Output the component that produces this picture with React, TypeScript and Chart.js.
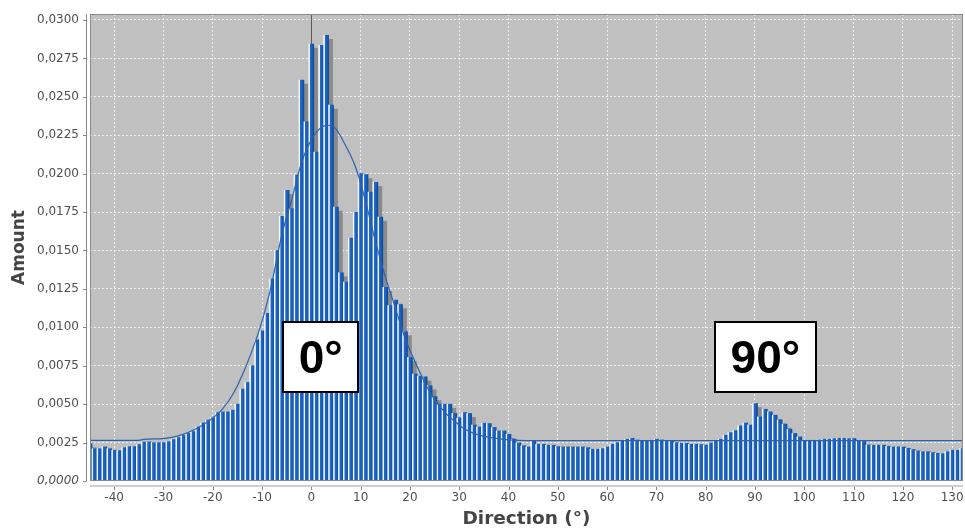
import React, { useEffect, useRef } from 'react';
import { Chart, registerables } from 'chart.js';

Chart.register(...registerables);

// Histogram bins (degrees)
const directionBins = [
  -45, -44, -43, -42, -41, -40, -39, -38, -37, -36, -35, -34, -33, -32, -31, -30,
  -29, -28, -27, -26, -25, -24, -23, -22, -21, -20, -19, -18, -17, -16, -15, -14,
  -13, -12, -11, -10, -9, -8, -7, -6, -5, -4, -3, -2, -1, 0, 1, 2, 3, 4, 5, 6, 7,
  8, 9, 10, 11, 12, 13, 14, 15, 16, 17, 18, 19, 20, 21, 22, 23, 24, 25, 26, 27, 28,
  29, 30, 31, 32, 33, 34, 35, 36, 37, 38, 39, 40, 41, 42, 43, 44, 45, 46, 47, 48,
  49, 50, 51, 52, 53, 54, 55, 56, 57, 58, 59, 60, 61, 62, 63, 64, 65, 66, 67, 68,
  69, 70, 71, 72, 73, 74, 75, 76, 77, 78, 79, 80, 81, 82, 83, 84, 85, 86, 87, 88,
  89, 90, 91, 92, 93, 94, 95, 96, 97, 98, 99, 100, 101, 102, 103, 104, 105, 106,
  107, 108, 109, 110, 111, 112, 113, 114, 115, 116, 117, 118, 119, 120, 121, 122,
  123, 124, 125, 126, 127, 128, 129, 130, 131, 132,
];

// Amount per bin
const amountValues = [
  0.00243, 0.0021, 0.0021, 0.00222, 0.0021, 0.002, 0.00198, 0.00217, 0.00224, 0.00224,
  0.00237, 0.00254, 0.00254, 0.0025, 0.0025, 0.0025, 0.00256, 0.0027, 0.00283, 0.00296,
  0.0031, 0.00322, 0.00352, 0.00378, 0.00397, 0.00412, 0.00446, 0.0045, 0.0045, 0.00461,
  0.005, 0.00598, 0.00641, 0.0075, 0.00918, 0.00978, 0.01091, 0.01315, 0.015, 0.01722,
  0.01891, 0.01772, 0.0199, 0.02609, 0.02337, 0.02843, 0.02141, 0.02835, 0.029, 0.02446,
  0.01783, 0.01354, 0.01294, 0.0158, 0.01748, 0.02, 0.01994, 0.0188, 0.01943, 0.01717,
  0.01261, 0.01141, 0.01178, 0.01148, 0.00972, 0.00804, 0.00696, 0.00682, 0.00678, 0.0062,
  0.0055, 0.005, 0.005, 0.005, 0.0044, 0.0041, 0.00446, 0.0044, 0.00364, 0.00352,
  0.00376, 0.00374, 0.00348, 0.00326, 0.00326, 0.00304, 0.00272, 0.00248, 0.0023, 0.00222,
  0.00261, 0.00239, 0.00239, 0.00233, 0.00233, 0.00224, 0.00222, 0.00222, 0.00222, 0.00222,
  0.00222, 0.00217, 0.00207, 0.00207, 0.00211, 0.00222, 0.00239, 0.0025, 0.00261, 0.00272,
  0.00278, 0.00267, 0.00261, 0.00261, 0.00265, 0.00272, 0.00267, 0.00261, 0.00261, 0.0025,
  0.00246, 0.00246, 0.00239, 0.00239, 0.00237, 0.00234, 0.00248, 0.00263, 0.00272, 0.00298,
  0.00315, 0.00328, 0.00359, 0.00377, 0.00364, 0.00504, 0.00417, 0.00467, 0.0045, 0.00428,
  0.00398, 0.0037, 0.00337, 0.00309, 0.00287, 0.00265, 0.00265, 0.00265, 0.00267, 0.00272,
  0.00272, 0.00276, 0.00278, 0.00278, 0.00276, 0.00276, 0.00261, 0.00257, 0.00235, 0.00233,
  0.00233, 0.00233, 0.00226, 0.00222, 0.00222, 0.00222, 0.00213, 0.00205, 0.00196, 0.00191,
  0.00191, 0.00185, 0.0018, 0.00178, 0.00191, 0.002, 0.002, 0.00211,
];

// Fitted density curve
const fitCurveX = [
  -44.9, -35, -34, -30, -28, -26, -24, -22, -20, -18, -16, -14, -12, -10, -8, -6, -4, -2,
  0, 2, 3.5, 5, 7, 9, 11, 13, 15, 17, 19, 21, 23, 25, 27, 29, 31, 33, 35, 37, 40, 45, 132.2,
];
const fitCurveY = [
  0.00264, 0.00265, 0.00271, 0.00276, 0.00285, 0.00303, 0.0033, 0.00365, 0.0041, 0.0047,
  0.0056, 0.0069, 0.0085, 0.0104, 0.0129, 0.016, 0.0183, 0.0207, 0.0222, 0.023, 0.02315,
  0.0229, 0.0218, 0.0204, 0.0182, 0.0156, 0.0133, 0.0113, 0.0093, 0.0078, 0.0064, 0.0053,
  0.0045, 0.0039, 0.0034, 0.0031, 0.0029, 0.0028, 0.00268, 0.00263, 0.00263,
];

// Axis ranges / ticks
const xRange = [-44.9, 132.2];
const yRange = [0, 0.03039];
const xTickStep = 10;
const yTickStep = 0.0025;

// Text annotations (data coordinates of the box centre)
const annotationLabels = ['0°', '90°'];
const annotationX = [1.9, 92.1];
const annotationY = [0.00809, 0.00809];

const fmtY = (v: number) => Number(v).toFixed(4).replace('.', ',');

const decorPlugin = {
  id: 'decor',
  beforeDraw(chart: any) {
    const { ctx, chartArea: a } = chart;
    ctx.save();
    ctx.fillStyle = '#ffffff';
    ctx.fillRect(0, 0, chart.width, chart.height);
    ctx.fillStyle = '#c0c0c0';
    ctx.fillRect(a.left, a.top, a.right - a.left, a.bottom - a.top);
    ctx.restore();
  },
  beforeDatasetsDraw(chart: any) {
    const { ctx, chartArea: a } = chart;
    const x0 = Math.round(chart.scales.x.getPixelForValue(0)) + 0.5;
    ctx.save();
    ctx.strokeStyle = '#5a5a5a';
    ctx.lineWidth = 1;
    ctx.beginPath();
    ctx.moveTo(x0, a.top);
    ctx.lineTo(x0, a.bottom);
    ctx.stroke();
    ctx.restore();
  },
  beforeDatasetDraw(chart: any, args: any) {
    if (args.index === 1) {
      const ctx = chart.ctx;
      ctx.shadowColor = '#8a8a8a';
      ctx.shadowOffsetX = 4;
      ctx.shadowOffsetY = 4;
      ctx.shadowBlur = 0;
    }
  },
  afterDatasetDraw(chart: any, args: any) {
    if (args.index === 1) {
      const ctx = chart.ctx;
      ctx.shadowColor = 'rgba(0,0,0,0)';
      ctx.shadowOffsetX = 0;
      ctx.shadowOffsetY = 0;
    }
  },
  afterDraw(chart: any) {
    const { ctx, chartArea: a } = chart;
    const xs = chart.scales.x;
    const ys = chart.scales.y;
    ctx.save();
    // plot outline
    ctx.strokeStyle = '#8a8a8a';
    ctx.lineWidth = 1;
    ctx.strokeRect(a.left + 0.5, a.top + 0.5, a.right - a.left - 1, a.bottom - a.top - 1);
    // y axis line + ticks
    const yx = a.left - 3.5;
    ctx.strokeStyle = '#8a8a8a';
    ctx.beginPath();
    ctx.moveTo(yx, a.top);
    ctx.lineTo(yx, a.bottom);
    ys.ticks.forEach((t: any) => {
      const py = Math.round(ys.getPixelForValue(t.value)) + 0.5;
      ctx.moveTo(a.left - 7, py);
      ctx.lineTo(yx, py);
    });
    ctx.stroke();
    // x axis line + ticks
    ctx.strokeStyle = '#cfcfcf';
    ctx.lineWidth = 2;
    ctx.beginPath();
    ctx.moveTo(a.left, a.bottom + 5);
    ctx.lineTo(a.right, a.bottom + 5);
    ctx.stroke();
    ctx.strokeStyle = '#8a8a8a';
    ctx.lineWidth = 1;
    ctx.beginPath();
    xs.ticks.forEach((t: any) => {
      const px = Math.round(xs.getPixelForValue(t.value)) + 0.5;
      ctx.moveTo(px, a.bottom + 6);
      ctx.lineTo(px, a.bottom + 9);
    });
    ctx.stroke();
    // annotations
    ctx.font = 'bold 46px "Liberation Sans", Arial, sans-serif';
    ctx.textAlign = 'center';
    ctx.textBaseline = 'alphabetic';
    annotationLabels.forEach((label, i) => {
      const cx = xs.getPixelForValue(annotationX[i]);
      const cy = ys.getPixelForValue(annotationY[i]);
      const tw = ctx.measureText(label).width;
      const w = tw + 33;
      const h = 72;
      const left = Math.round(cx - w / 2);
      const top = Math.round(cy - h / 2);
      ctx.fillStyle = '#ffffff';
      ctx.fillRect(left, top, Math.round(w), h);
      ctx.strokeStyle = '#000000';
      ctx.lineWidth = 2;
      ctx.strokeRect(left + 1, top + 1, Math.round(w) - 2, h - 2);
      ctx.fillStyle = '#000000';
      ctx.fillText(label, cx, cy + 16.5);
    });
    ctx.restore();
  },
};

function barFill(c: any) {
  const chart = c.chart;
  const xs = chart && chart.scales ? chart.scales.x : null;
  if (c.type !== 'data' || !xs || !c.parsed) return '#1762be';
  const v = c.parsed.x;
  const px = xs.getPixelForValue(v);
  const half = xs.getPixelForValue(v + 0.5) - px;
  if (!isFinite(px) || !isFinite(half) || half <= 0) return '#1762be';
  const g = chart.ctx.createLinearGradient(px - half, 0, px + half, 0);
  g.addColorStop(0, '#ffffff');
  g.addColorStop(0.16, '#eaf0f9');
  g.addColorStop(0.3, '#2569c6');
  g.addColorStop(0.7, '#135dbb');
  g.addColorStop(1, '#0a4898');
  return g;
}

export default function App() {
  const ref = useRef<HTMLCanvasElement | null>(null);

  useEffect(() => {
    document.body.style.margin = '0';
    const canvas = ref.current;
    if (!canvas) return;
    const barData = directionBins.map((d, i) => ({ x: d, y: amountValues[i] }));
    const curveData = fitCurveX.map((d, i) => ({ x: d, y: fitCurveY[i] }));
    const tickFont = { family: '"DejaVu Sans", sans-serif', size: 12 };
    const titleFont = { family: '"DejaVu Sans", sans-serif', weight: 'bold' as const, lineHeight: 1.1 };
    const gridColor = 'rgba(255,255,255,0.72)';

    const chart = new Chart(canvas, {
      type: 'bar',
      data: {
        datasets: [
          {
            type: 'line',
            data: curveData,
            borderColor: '#2a62b0',
            borderWidth: 1.2,
            pointRadius: 0,
            fill: false,
            cubicInterpolationMode: 'monotone',
            order: 0,
          } as any,
          {
            type: 'bar',
            data: barData,
            backgroundColor: barFill as any,
            borderWidth: 0,
            barPercentage: 1,
            categoryPercentage: 1,
            order: 1,
          } as any,
        ],
      },
      options: {
        animation: false,
        responsive: true,
        maintainAspectRatio: false,
        layout: { padding: { top: 14, right: 2, left: 0, bottom: 0 } },
        plugins: { legend: { display: false }, tooltip: { enabled: false } },
        scales: {
          x: {
            type: 'linear',
            min: xRange[0],
            max: xRange[1],
            offset: false,
            grid: { color: gridColor, lineWidth: 1, drawTicks: false, offset: false },
            border: { display: false, dash: [2, 2] },
            ticks: {
              stepSize: xTickStep,
              includeBounds: false,
              padding: 10,
              color: '#505050',
              font: tickFont,
              maxRotation: 0,
              autoSkip: false,
            },
            title: {
              display: true,
              text: 'Direction (°)',
              color: '#444444',
              font: { ...titleFont, size: 18.5 },
              padding: 0,
            },
            afterFit(scale: any) {
              scale.height = 48;
              scale.paddingLeft = 0;
              scale.paddingRight = 0;
            },
          } as any,
          y: {
            type: 'linear',
            min: yRange[0],
            max: yRange[1],
            grid: { color: gridColor, lineWidth: 1, drawTicks: false },
            border: { display: false, dash: [2, 2] },
            ticks: {
              stepSize: yTickStep,
              includeBounds: false,
              padding: 11,
              color: '#505050',
              font: (c: any) => ({
                ...tickFont,
                style: c.tick && c.tick.value === 0 ? 'italic' : 'normal',
              }),
              callback: (v: any) => fmtY(v),
            },
            title: {
              display: true,
              text: 'Amount',
              color: '#444444',
              font: { ...titleFont, size: 17 },
              padding: { top: 10, bottom: 0 },
            },
            afterFit(scale: any) {
              scale.width = 90;
              scale.paddingTop = 0;
              scale.paddingBottom = 0;
            },
          } as any,
        },
      },
      plugins: [decorPlugin],
    });
    return () => chart.destroy();
  }, []);

  return (
    <div style={{ position: 'relative', width: 965, height: 529, background: '#ffffff' }}>
      <canvas ref={ref} />
    </div>
  );
}
